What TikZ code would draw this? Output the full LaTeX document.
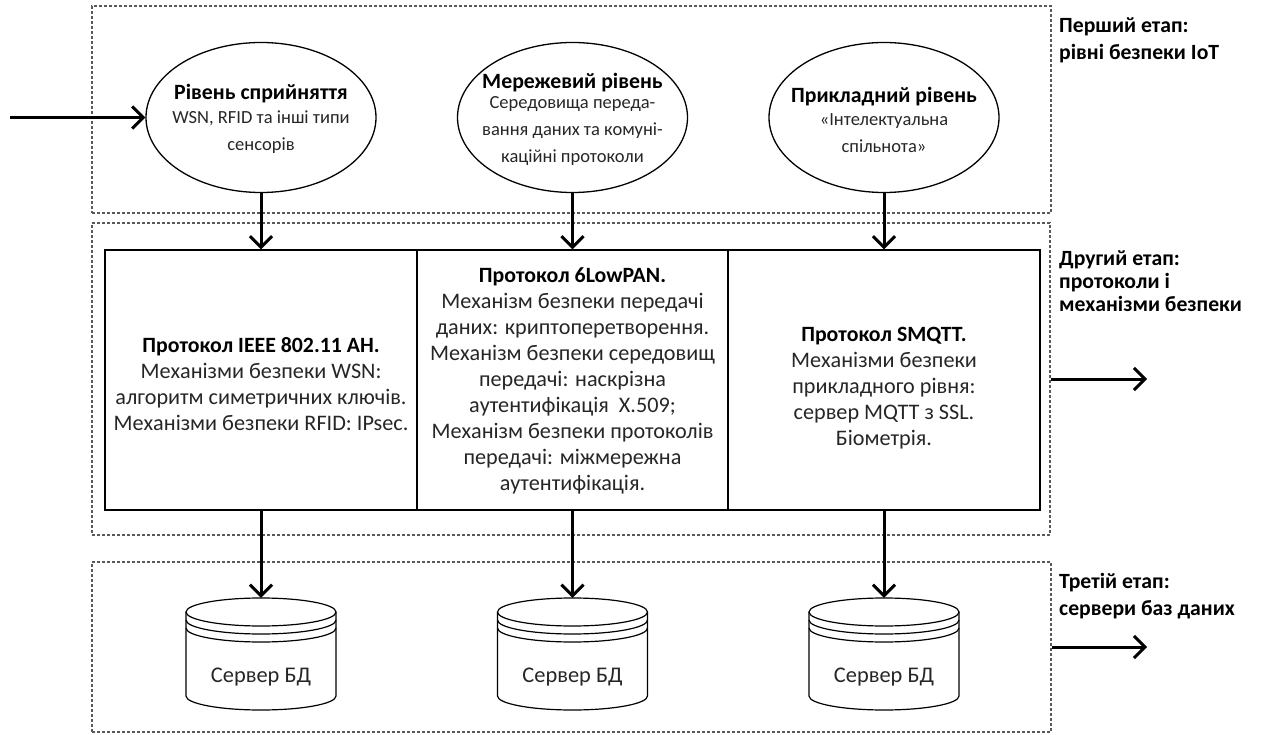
\documentclass[tikz,border=0pt]{standalone}
\usepackage{fontspec}
\setmainfont{Carlito}
\usetikzlibrary{shapes.geometric,arrows.meta,calc}

\begin{document}
\begin{tikzpicture}[x=1pt,y=-1pt,
  stagebox/.style={draw=black!65, line width=1.2pt, dash pattern=on 3pt off 2pt,
    inner sep=0pt, rectangle},
  layer/.style={ellipse, draw, line width=1.3pt, minimum width=230pt,
    minimum height=150pt, inner sep=0pt},
  layertext/.style={align=center, inner sep=0pt, text=black!85,
    font=\fontsize{18.5}{27}\selectfont},
  cell/.style={rectangle, draw, line width=1.3pt, minimum width=312pt,
    minimum height=260pt, inner sep=0pt},
  celltext/.style={align=center, inner sep=0pt, text=black!85,
    font=\fontsize{22.2}{26}\selectfont},
  dbbody/.style={rectangle, inner sep=0pt, minimum width=150pt, minimum height=112pt},
  dblabel/.style={inner sep=0pt, text=black!85, font=\fontsize{22.4}{24}\selectfont},
  dbline/.style={line width=1.2pt},
  stagelabel/.style={anchor=west, align=left, inner sep=0pt,
    font=\bfseries\fontsize{21.7}{27}\selectfont},
  flow/.style={line width=3pt, -{Straight Barb[length=11pt,width=22pt]}}
]
\useasboundingbox (0,0) rectangle (1264,735);

% three stage frames
\node[stagebox, minimum width=959pt, minimum height=207pt] (s1) at (571.5,109.5) {};
\node[stagebox, minimum width=958pt, minimum height=312pt] (s2) at (571,379) {};
\node[stagebox, minimum width=959pt, minimum height=170pt] (s3) at (571.5,647) {};

% stage captions
\node[stagelabel] (l1) at (1059,40) {Перший етап:\\рівні безпеки IoT};
\node[stagelabel, font=\bfseries\fontsize{21.7}{23}\selectfont] (l2) at (1059,281)
  {Другий етап:\\протоколи і\\механізми безпеки};
\node[stagelabel] (l3) at (1059,596) {Третій етап:\\сервери баз даних};

% IoT security levels
\node[layer] (e1) at (261,117.5) {};
\node[layer] (e2) at (572.5,117.5) {};
\node[layer] (e3) at (884,117.5) {};
\node[layertext] (t1) at (261,119)
  {{\bfseries\color{black}\fontsize{21.8}{24}\selectfont Рівень сприйняття}\\[-3pt]
   WSN, RFID та інші типи\\сенсорів};
\node[layertext] (t2) at (572.5,119)
  {{\bfseries\color{black}\fontsize{21.8}{24}\selectfont Мережевий рівень}\\[-7pt]
   Середовища переда-\\вання даних та комуні-\\каційні протоколи};
\node[layertext] (t3) at (884,120)
  {{\bfseries\color{black}\fontsize{21.8}{24}\selectfont Прикладний рівень}\\[-4pt]
   «Інтелектуальна\\спільнота»};

% protocols and security mechanisms
\node[cell] (c1) at (261,380) {};
\node[cell] (c2) at (572.5,380) {};
\node[cell] (c3) at (884,380) {};
\node[celltext] (p1) at (261,384)
  {{\bfseries\color{black}\fontsize{21.8}{23}\selectfont Протокол IEEE 802.11 AH.}\\
   Механізми безпеки WSN:\\алгоритм симетричних ключів.\\Механізми безпеки RFID: IPsec.};
\node[celltext] (p2) at (572.5,381)
  {{\bfseries\color{black}\fontsize{21.8}{23}\selectfont Протокол 6LowPAN.}\\
   Механізм безпеки передачі\\даних: криптоперетворення.\\Механізм безпеки середовищ\\
   передачі: наскрізна\\аутентифікація~~X.509;\\Механізм безпеки протоколів\\
   передачі: міжмережна\\аутентифікація.};
\node[celltext] (p3) at (884,388)
  {{\bfseries\color{black}\fontsize{21.8}{23}\selectfont Протокол SMQTT.}\\
   Механізми безпеки\\прикладного рівня:\\сервер MQTT з SSL.\\Біометрія.};

% database servers
\foreach \i/\x in {1/261,2/572.5,3/884}{
  \node[dbbody] (d\i) at (\x,654) {};
  \draw[dbline] (\x,612) ellipse [x radius=75pt, y radius=14pt];
  \draw[dbline] (\x-75,620) arc[start angle=180, end angle=360, x radius=75pt, y radius=14pt];
  \draw[dbline] (\x-75,628) arc[start angle=180, end angle=360, x radius=75pt, y radius=14pt];
  \draw[dbline] (\x-75,612) -- (\x-75,696)
     arc[start angle=180, end angle=360, x radius=75pt, y radius=14pt] -- (\x+75,612);
  \node[dblabel] (n\i) at (\x,677) {Сервер БД};
}

% connectors
\coordinate (in0) at (10,117.5);
\coordinate (out2) at (1147,379);
\coordinate (out3) at (1147,647);
\draw[flow] (in0) -- (e1.west);
\draw[flow] (e1.south) -- (c1.north);
\draw[flow] (e2.south) -- (c2.north);
\draw[flow] (e3.south) -- (c3.north);
\draw[flow] (c1.south) -- (d1.north);
\draw[flow] (c2.south) -- (d2.north);
\draw[flow] (c3.south) -- (d3.north);
\draw[flow] (s2.east) -- (out2);
\draw[flow] (s3.east) -- (out3);
\end{tikzpicture}
\end{document}
